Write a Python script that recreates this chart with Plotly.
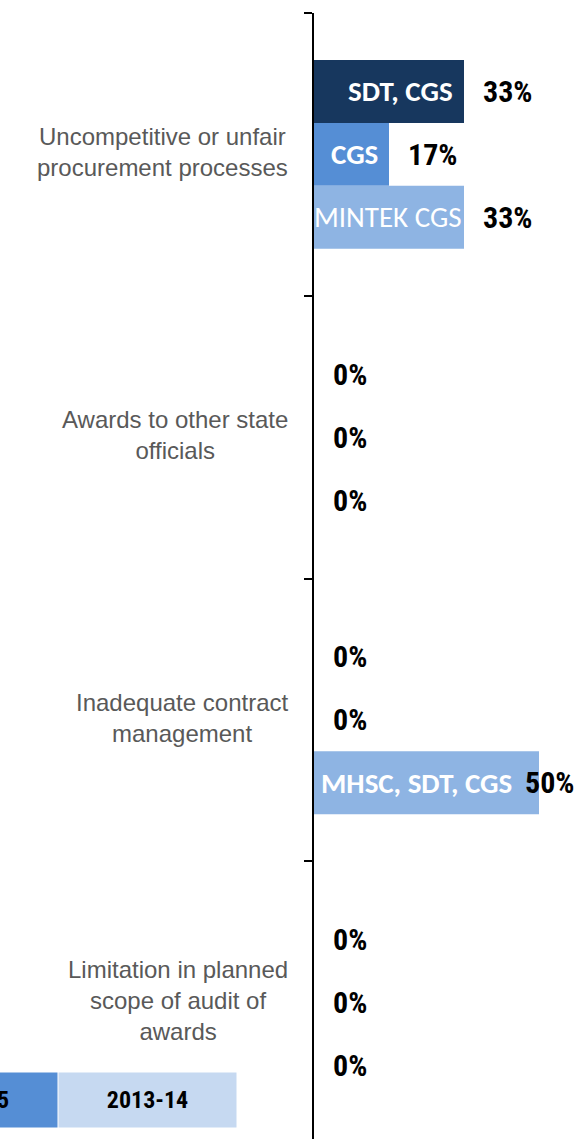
import plotly.graph_objects as go

categories = [
    "Uncompetitive or unfair<br>procurement processes",
    "Awards to other state<br>officials",
    "Inadequate contract<br>management",
    "Limitation in planned<br>scope of audit of<br>awards",
]
series_names = ["2015-16", "2014-15", "2013-14"]
values_2015_16 = [1 / 3, 0, 0, 0]
values_2014_15 = [1 / 6, 0, 0, 0]
values_2013_14 = [1 / 3, 0, 0.5, 0]
orgs_2015_16 = ["SDT, CGS", "", "", ""]
orgs_2014_15 = ["CGS", "", "", ""]
orgs_2013_14 = ["MINTEK CGS", "", "MHSC, SDT, CGS", ""]

series_values = [values_2015_16, values_2014_15, values_2013_14]
series_orgs = [orgs_2015_16, orgs_2014_15, orgs_2013_14]
bar_colors = ["#17375E", "#558ED5", "#8EB4E3"]
legend_colors = ["#17375E", "#558ED5", "#C6D9F1"]

W, H = 579, 1139
ML, MT = 314, 13
plot_w = W - ML
px_per_unit = 450.0
xmax = plot_w / px_per_unit
band_px = 282.75
plot_h = H - MT
ybottom = -0.5 + plot_h / band_px

bar_w = 0.2228
offsets = [-bar_w, 0, bar_w]

PCT_FONT = "Arial Narrow, Liberation Sans Narrow, Roboto Condensed, Liberation Sans, Arial"
ORG_FONT = "Calibri, Carlito, Lato, sans-serif"
CAT_FONT = "Arial, Liberation Sans, sans-serif"

fig = go.Figure()
annotations = []
for s, (vals, orgs) in enumerate(zip(series_values, series_orgs)):
    ys = [i + offsets[s] for i in range(len(categories))]
    fig.add_trace(go.Bar(
        x=vals, y=ys, orientation="h", width=bar_w,
        marker=dict(color=bar_colors[s], line=dict(width=0)),
        name=series_names[s], hoverinfo="skip", showlegend=False,
    ))
    for i, (v, org) in enumerate(zip(vals, orgs)):
        pct = f"{round(v * 100)}%"
        near_edge = v + 70 / px_per_unit > xmax
        if near_edge:
            annotations.append(dict(x=xmax, y=ys[i], xref="x", yref="y", text=pct,
                                    xanchor="right", xshift=-3, showarrow=False,
                                    font=dict(family=PCT_FONT, size=30, color="black", weight="bold")))
        else:
            annotations.append(dict(x=v, y=ys[i], xref="x", yref="y", text=pct,
                                    xanchor="left", xshift=17, showarrow=False,
                                    font=dict(family=PCT_FONT, size=30, color="black", weight="bold")))
        if org:
            bold = org != "MINTEK CGS"
            shift = -9 if bold else 0
            if near_edge:
                shift = -25
            annotations.append(dict(x=v, y=ys[i], xref="x", yref="y", text=org,
                                    xanchor="right", xshift=shift, showarrow=False,
                                    font=dict(family=ORG_FONT, size=29, color="white",
                                              weight="bold" if bold else "normal")))

for i, c in enumerate(categories):
    annotations.append(dict(x=0, y=i, xref="paper", yref="y", text=c, xanchor="right",
                            xshift=-24, yshift=2, align="center", showarrow=False,
                            font=dict(family=CAT_FONT, size=24, color="#595959")))

# legend cells (bottom-left)
cell_w, cell_h, gap = 177, 54, 2
right_edge = -77
for k in range(len(series_names) - 1, -1, -1):
    idx = len(series_names) - 1 - k
    xs = right_edge - idx * (cell_w + gap)
    annotations.append(dict(x=0, y=0, xref="paper", yref="paper", text=f"<b>{series_names[k]}</b>",
                            xanchor="right", yanchor="bottom", xshift=xs, yshift=11,
                            width=cell_w, height=cell_h, bgcolor=legend_colors[k], borderpad=0,
                            align="center", valign="middle", showarrow=False,
                            font=dict(family=PCT_FONT, size=24,
                                      color="white" if k == 0 else "black")))

fig.update_layout(
    width=W, height=H,
    margin=dict(l=ML, r=0, t=MT, b=0, pad=0),
    plot_bgcolor="white", paper_bgcolor="white",
    barmode="overlay",
    annotations=annotations,
    xaxis=dict(range=[0, xmax], visible=False, fixedrange=True),
    yaxis=dict(range=[ybottom, -0.5], showline=True, linecolor="black", linewidth=2,
               ticks="outside", ticklen=8, tickwidth=2, tickcolor="black",
               tickvals=[-0.5, 0.5, 1.5, 2.5, 3.5], ticktext=["", "", "", "", ""],
               showgrid=False, zeroline=False, fixedrange=True),
)
fig.write_html("out.html")
